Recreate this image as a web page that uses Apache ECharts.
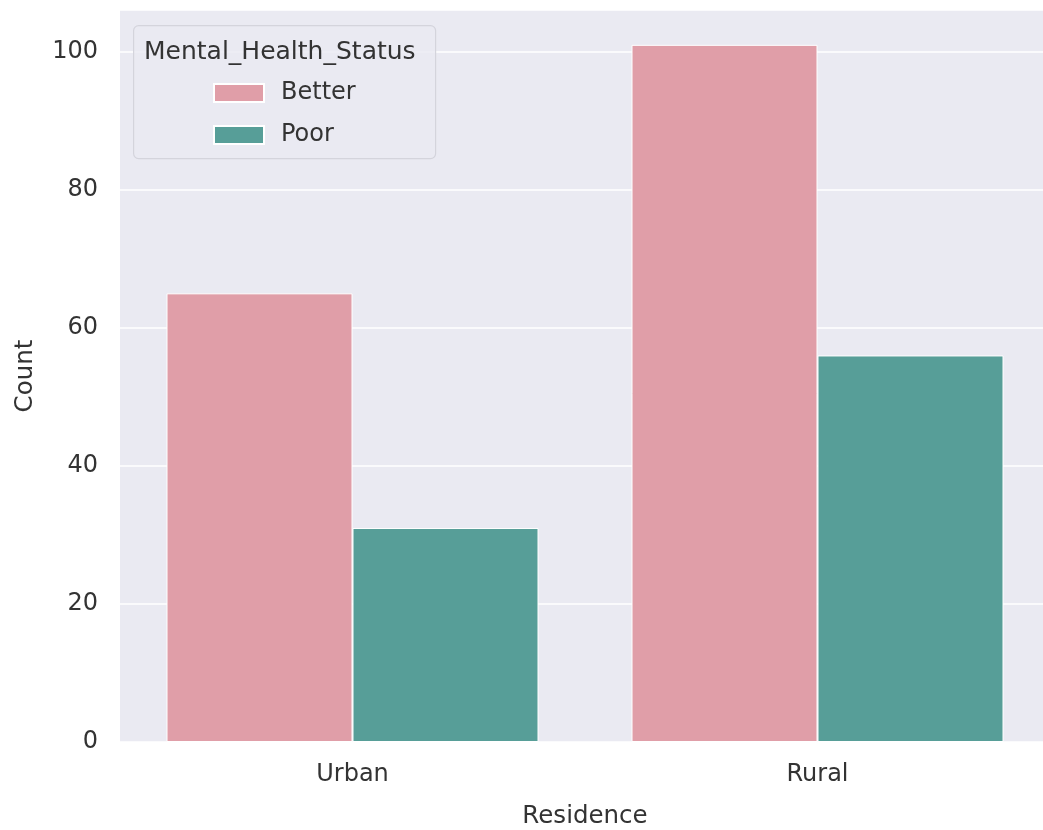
<!DOCTYPE html>
<html>
<head>
<meta charset="utf-8">
<script src="https://cdn.jsdelivr.net/npm/echarts@6/dist/echarts.min.js"></script>
<style>
html,body{margin:0;padding:0;background:#fff;}
#chart{width:1043px;height:830px;}
</style>
</head>
<body>
<div id="chart"></div>
<script>
const categories = ["Urban", "Rural"];
const betterValues = [65, 101];
const poorValues = [31, 56];
const seriesNames = ["Better", "Poor"];
const yTicks = [0, 20, 40, 60, 80, 100];

const FONT = "DejaVu Sans";
const TXT = "#333333";
const chart = echarts.init(document.getElementById('chart'), null, {renderer: 'canvas'});
chart.setOption({
  animation: false,
  backgroundColor: '#ffffff',
  grid: {
    left: 120, width: 930, top: 10, bottom: 88,
    outerBoundsMode: 'none',
    containLabel: false,
    show: true, backgroundColor: '#EAEAF2', borderWidth: 0
  },
  xAxis: {
    type: 'category',
    data: categories,
    boundaryGap: true,
    axisLine: {show: false},
    axisTick: {show: false},
    splitLine: {show: false},
    axisLabel: {color: TXT, fontFamily: FONT, fontSize: 24, margin: 21},
    name: 'Residence',
    nameLocation: 'middle',
    nameGap: 62,
    nameTextStyle: {color: TXT, fontFamily: FONT, fontSize: 24.5}
  },
  yAxis: {
    type: 'value',
    min: 0, max: 106.05, interval: 20,
    axisLine: {show: false},
    axisTick: {show: false},
    splitLine: {show: true, lineStyle: {color: '#ffffff', width: 1.5}},
    axisLabel: {
      color: TXT, fontFamily: FONT, fontSize: 24, margin: 22,
      showMaxLabel: false,
      formatter: v => yTicks.includes(v) ? String(v) : ''
    },
    name: 'Count',
    nameLocation: 'middle',
    nameGap: 82,
    nameRotate: 90,
    nameTextStyle: {color: TXT, fontFamily: FONT, fontSize: 24.5}
  },
  legend: {
    orient: 'vertical',
    left: 208, top: 76,
    itemWidth: 50, itemHeight: 18, itemGap: 18,
    icon: 'rect',
    textStyle: {color: TXT, fontFamily: FONT, fontSize: 24, padding: [0, 0, 0, 12]},
    data: seriesNames,
    z: 10
  },
  graphic: [
    {
      type: 'rect', left: 133, top: 25, z: 5,
      shape: {width: 302, height: 133, r: 5},
      style: {fill: 'rgba(234,234,242,0.85)', stroke: '#d4d4dc', lineWidth: 1.2}
    },
    {
      type: 'text', left: 144, top: 40, z: 6,
      style: {text: 'Mental_Health_Status', fill: TXT, font: '25px "DejaVu Sans"'}
    }
  ],
  series: [
    {
      name: seriesNames[0], type: 'bar', data: betterValues,
      barCategoryGap: '20%', barGap: '0%',
      itemStyle: {color: '#E09EA8', borderColor: '#ffffff', borderWidth: 1}
    },
    {
      name: seriesNames[1], type: 'bar', data: poorValues,
      barCategoryGap: '20%', barGap: '0%',
      itemStyle: {color: '#579E98', borderColor: '#ffffff', borderWidth: 1}
    }
  ]
});
</script>
</body>
</html>
